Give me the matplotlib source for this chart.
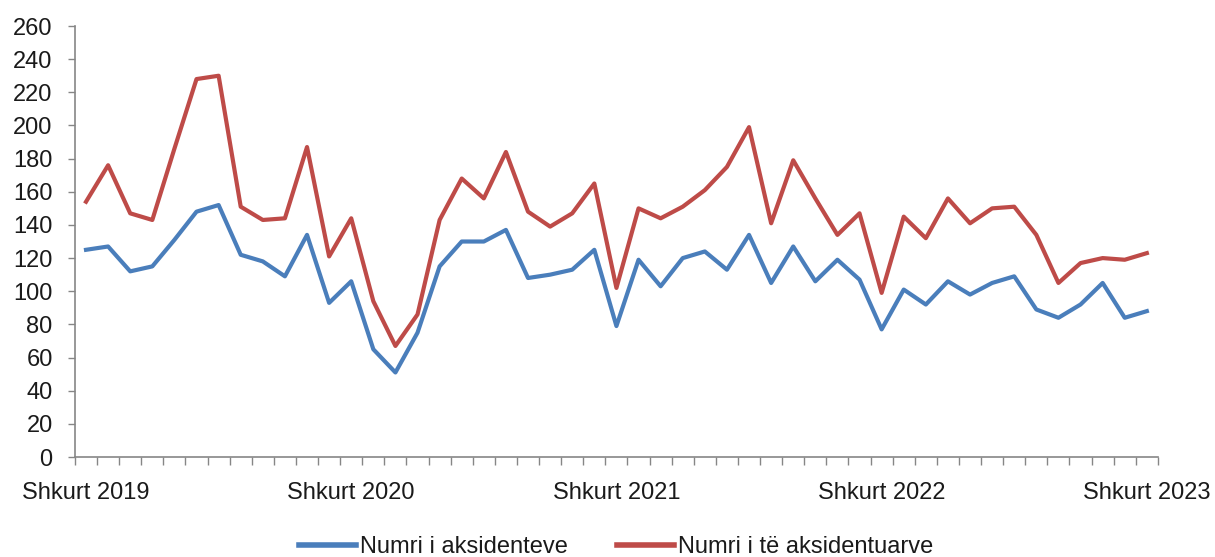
import matplotlib
matplotlib.use("Agg")
import matplotlib.pyplot as plt
import numpy as np

aksidente = [125, 127, 112, 115, 131, 148, 152, 122, 118, 109, 134, 93, 106, 65, 51, 75,
             115, 130, 130, 137, 108, 110, 113, 125, 79, 119, 103, 120, 124, 113, 134, 105,
             127, 106, 119, 107, 77, 101, 92, 106, 98, 105, 109, 89, 84, 92, 105, 84, 88]
aksidentuar = [154, 176, 147, 143, 186, 228, 230, 151, 143, 144, 187, 121, 144, 94, 67, 86,
               143, 168, 156, 184, 148, 139, 147, 165, 102, 150, 144, 151, 161, 175, 199, 141,
               179, 156, 134, 147, 99, 145, 132, 156, 141, 150, 151, 134, 105, 117, 120, 119, 123]
label_idx = [0, 12, 24, 36, 48]
label_txt = ["Shkurt 2019", "Shkurt 2020", "Shkurt 2021", "Shkurt 2022", "Shkurt 2023"]
series_names = ["Numri i aksidenteve", "Numri i të aksidentuarve"]

plt.rcParams['font.family'] = ['Liberation Sans', 'DejaVu Sans']

fig = plt.figure(figsize=(12.15, 5.57), dpi=100)
ax = fig.add_axes([0.0617, 0.1795, 0.8913, 0.7738])

x = np.arange(len(aksidente))
ax.plot(x, aksidente, color='#4A7EBB', lw=3, label=series_names[0], solid_joinstyle='round')
ax.plot(x, aksidentuar, color='#BE4B48', lw=3, label=series_names[1], solid_joinstyle='round')

ax.set_xlim(-0.5, len(aksidente) - 0.5)
ax.set_ylim(0, 260)
ax.set_yticks(np.arange(0, 261, 20))
ax.tick_params(axis='y', labelsize=17, length=5, color='#868686', width=1, direction='out',
               pad=11, labelcolor='#1a1a1a')

ax.set_xticks(label_idx)
ax.set_xticklabels(label_txt, fontsize=17, color='#1a1a1a')
ax.tick_params(axis='x', which='major', length=0, pad=18)
ax.set_xticks(np.arange(-0.5, len(aksidente), 1), minor=True)
ax.tick_params(axis='x', which='minor', length=6, color='#868686', width=1, direction='out')

for s in ['top', 'right']:
    ax.spines[s].set_visible(False)
for s in ['left', 'bottom']:
    ax.spines[s].set_color('#868686')
    ax.spines[s].set_linewidth(1.2)

leg = fig.legend(loc='center', bbox_to_anchor=(0.507, 0.018), ncol=2, frameon=False,
                 fontsize=17, handlelength=2.4, columnspacing=2.1, handletextpad=0.17)
for line in leg.get_lines():
    line.set_linewidth(4)
for t in leg.get_texts():
    t.set_color('#1a1a1a')

fig.savefig('out.png', dpi=100)
